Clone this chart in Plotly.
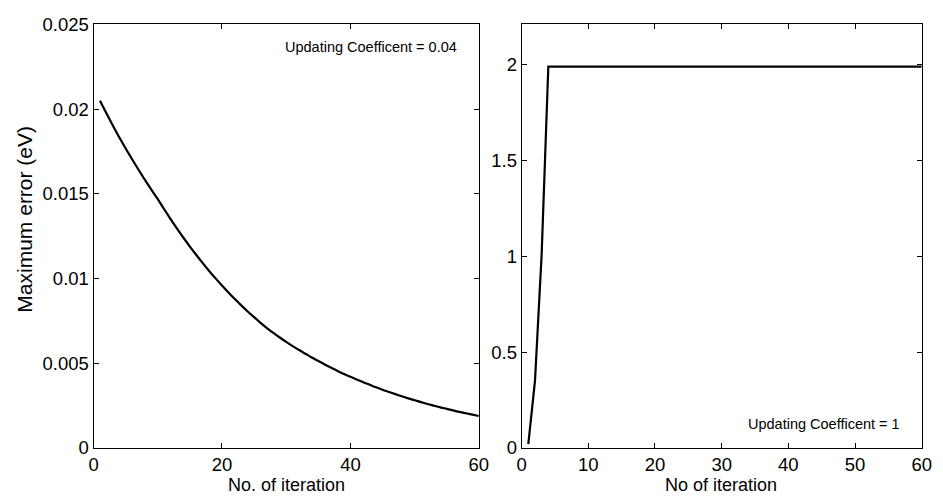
import plotly.graph_objects as go

# Left panel: updating coefficient 0.04
iter_left = list(range(1, 61))
err_left = [0.02050, 0.01976, 0.01904, 0.01834, 0.01768, 0.01704, 0.01642, 0.01582, 0.01525, 0.01469,
            0.01409, 0.01351, 0.01295, 0.01241, 0.01189, 0.01139, 0.01091, 0.01045, 0.01001, 0.00959,
            0.00918, 0.00879, 0.00842, 0.00806, 0.00772, 0.00739, 0.00708, 0.00679, 0.00652, 0.00626,
            0.00601, 0.00578, 0.00556, 0.00534, 0.00513, 0.00493, 0.00474, 0.00455, 0.00437, 0.00420,
            0.00404, 0.00388, 0.00373, 0.00358, 0.00344, 0.00331, 0.00318, 0.00305, 0.00293, 0.00282,
            0.00271, 0.00260, 0.00250, 0.00240, 0.00231, 0.00222, 0.00213, 0.00205, 0.00197, 0.00189]

# Right panel: updating coefficient 1
iter_right = list(range(1, 61))
err_right = [0.02, 0.35, 1.01, 1.99, 1.99, 1.99, 1.99, 1.99, 1.99, 1.99,
             1.99, 1.99, 1.99, 1.99, 1.99, 1.99, 1.99, 1.99, 1.99, 1.99,
             1.99, 1.99, 1.99, 1.99, 1.99, 1.99, 1.99, 1.99, 1.99, 1.99,
             1.99, 1.99, 1.99, 1.99, 1.99, 1.99, 1.99, 1.99, 1.99, 1.99,
             1.99, 1.99, 1.99, 1.99, 1.99, 1.99, 1.99, 1.99, 1.99, 1.99,
             1.99, 1.99, 1.99, 1.99, 1.99, 1.99, 1.99, 1.99, 1.99, 1.99]

left_xticks = [0, 20, 40, 60]
left_yticks = [0, 0.005, 0.01, 0.015, 0.02, 0.025]
left_yticklabels = ["0", "0.005", "0.01", "0.015", "0.02", "0.025"]
right_xticks = [0, 10, 20, 30, 40, 50, 60]
right_yticks = [0, 0.5, 1, 1.5, 2]
right_yticklabels = ["0", "0.5", "1", "1.5", "2"]

W, H = 943, 504
FONT = "Liberation Sans, Arial, Helvetica, sans-serif"

fig = go.Figure()
fig.add_trace(go.Scatter(x=iter_left, y=err_left, mode="lines", line_shape="spline",
                         line=dict(color="black", width=2.2), xaxis="x", yaxis="y",
                         showlegend=False))
fig.add_trace(go.Scatter(x=iter_right, y=err_right, mode="lines",
                         line=dict(color="black", width=2.2), xaxis="x2", yaxis="y2",
                         showlegend=False))

axis_common = dict(showline=True, linecolor="black", linewidth=1, mirror="ticks",
                   ticks="inside", ticklen=5, tickcolor="black", tickwidth=1,
                   showgrid=False, zeroline=False,
                   tickfont=dict(family=FONT, size=18.5, color="black"))

ydom = [48 / H, 490 / H]
fig.update_layout(
    width=W, height=H,
    margin=dict(l=0, r=0, t=0, b=0),
    paper_bgcolor="white", plot_bgcolor="white",
    xaxis=dict(domain=[90 / W, 481.5 / W], range=[0, 60], tickvals=left_xticks,
               anchor="y", **axis_common),
    yaxis=dict(domain=ydom, range=[0, 0.025], tickvals=left_yticks,
               ticktext=left_yticklabels, anchor="x", **axis_common),
    xaxis2=dict(domain=[525 / W, 931.5 / W], range=[0, 60], tickvals=right_xticks,
                anchor="y2", **axis_common),
    yaxis2=dict(domain=ydom, range=[0, 2.21], tickvals=right_yticks,
                ticktext=right_yticklabels, anchor="x2", **axis_common),
    annotations=[
        dict(text="Updating Coefficent = 0.04", xref="x domain", yref="y domain",
             x=0.949, y=0.946, xanchor="right", yanchor="middle", showarrow=False,
             font=dict(family=FONT, size=14.5, color="black")),
        dict(text="Updating Coefficent = 1", xref="x2 domain", yref="y2 domain",
             x=0.951, y=0.057, xanchor="right", yanchor="middle", showarrow=False,
             font=dict(family=FONT, size=14.5, color="black")),
        dict(text="No. of iteration", xref="paper", yref="paper",
             x=285.7 / W, y=(H - 494.5) / H, xanchor="center", yanchor="middle",
             showarrow=False, font=dict(family=FONT, size=18, color="black")),
        dict(text="No of iteration", xref="paper", yref="paper",
             x=728 / W, y=(H - 494.5) / H, xanchor="center", yanchor="middle",
             showarrow=False, font=dict(family=FONT, size=18, color="black")),
        dict(text="Maximum error (eV)", xref="paper", yref="paper",
             x=20 / W, y=(H - 217) / H, xanchor="center", yanchor="middle",
             textangle=-90, showarrow=False,
             font=dict(family=FONT, size=21, color="black")),
    ],
)

fig.write_html("out.html")
